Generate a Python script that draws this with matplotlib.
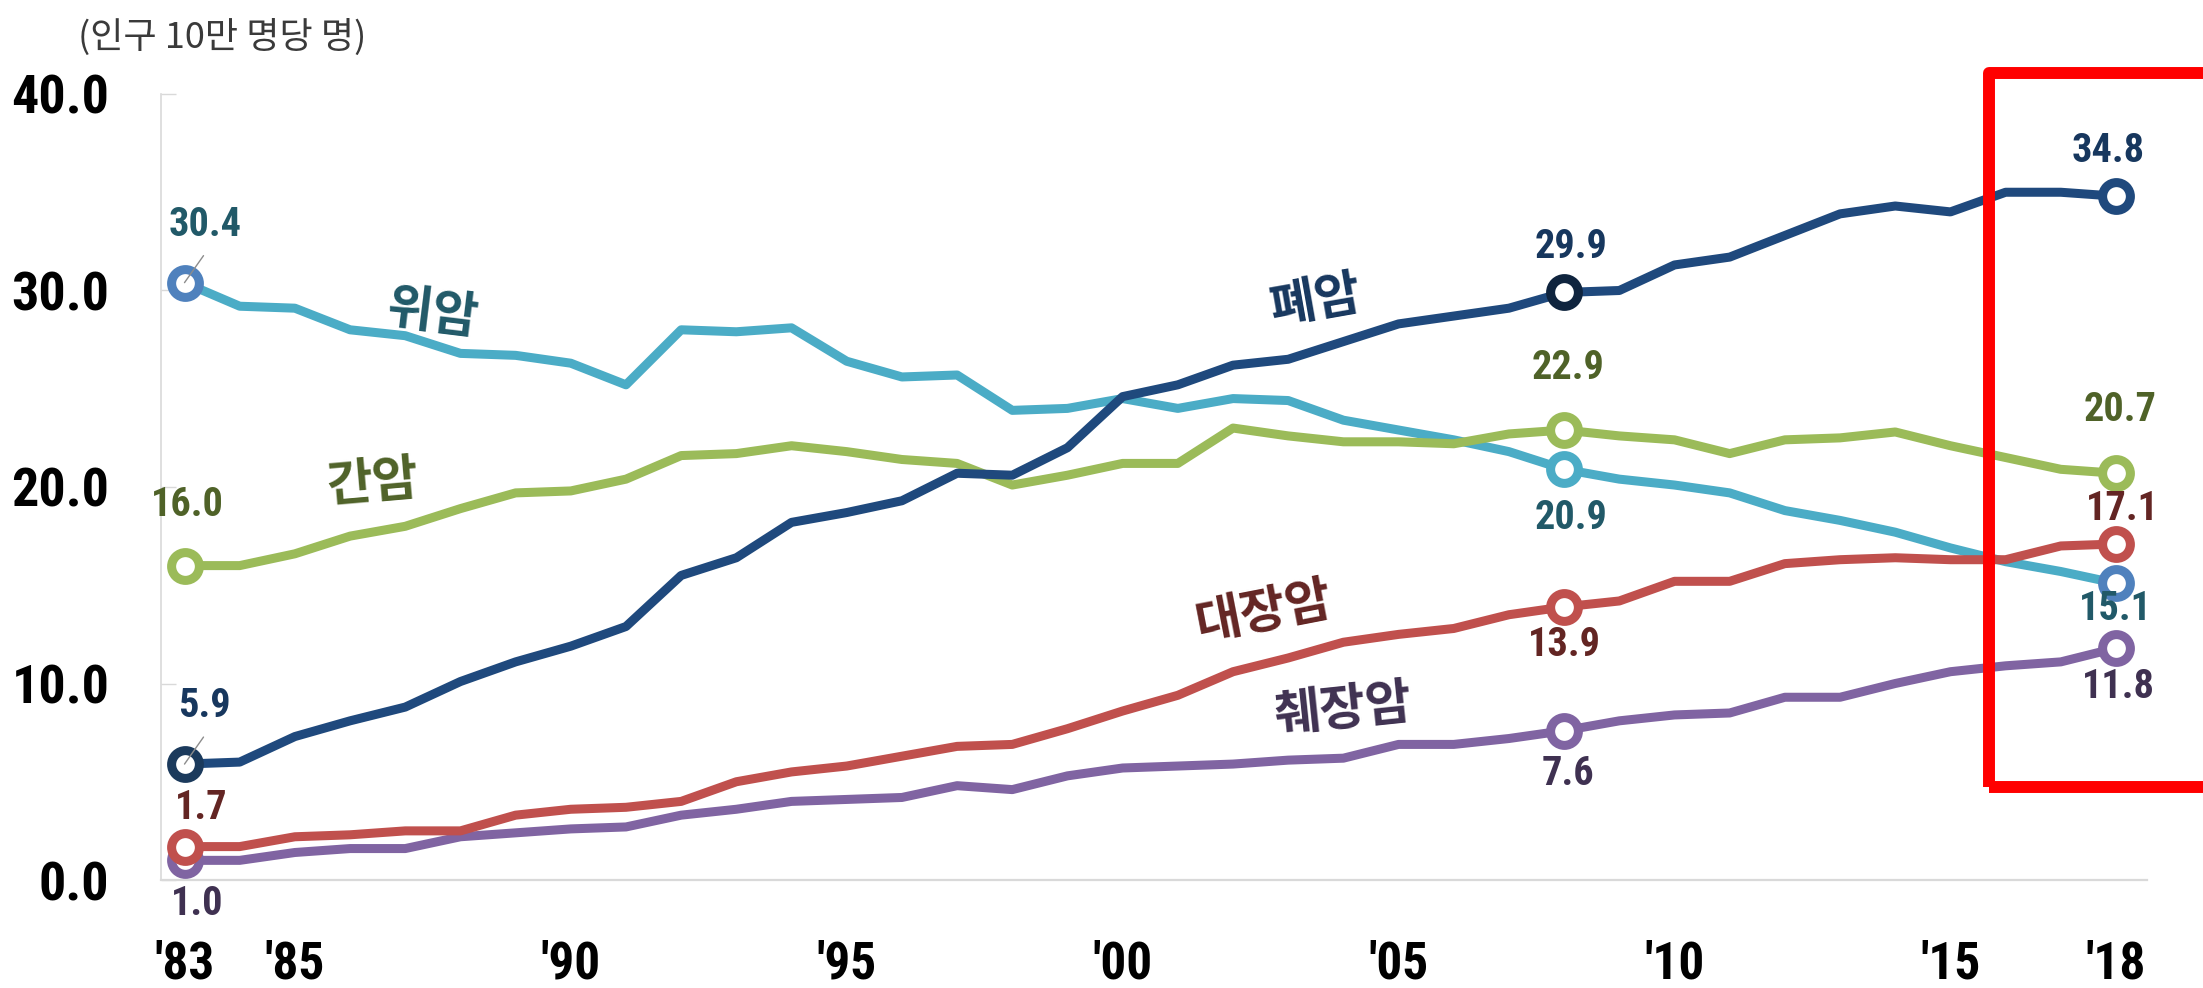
import matplotlib
matplotlib.use("Agg")
import matplotlib.pyplot as plt
from matplotlib import font_manager as fm
from matplotlib.patches import Rectangle

# ---------------- data ----------------
years = list(range(1983, 2019))
stomach = [30.4, 29.2, 29.1, 28.0, 27.7, 26.8, 26.7, 26.3, 25.2, 28.0,
           27.9, 28.1, 26.4, 25.6, 25.7, 23.9, 24.0, 24.5, 24.0, 24.5,
           24.4, 23.4, 22.9, 22.4, 21.8, 20.9, 20.4, 20.1, 19.7, 18.8,
           18.3, 17.7, 16.9, 16.2, 15.7, 15.1]
lung = [5.9, 6.0, 7.3, 8.1, 8.8, 10.1, 11.1, 11.9, 12.9, 15.5,
        16.4, 18.2, 18.7, 19.3, 20.7, 20.6, 22.0, 24.6, 25.2, 26.2,
        26.5, 27.4, 28.3, 28.7, 29.1, 29.9, 30.0, 31.3, 31.7, 32.8,
        33.9, 34.3, 34.0, 35.0, 35.0, 34.8]
liver = [16.0, 16.0, 16.6, 17.5, 18.0, 18.9, 19.7, 19.8, 20.4, 21.6,
         21.7, 22.1, 21.8, 21.4, 21.2, 20.1, 20.6, 21.2, 21.2, 23.0,
         22.6, 22.3, 22.3, 22.2, 22.7, 22.9, 22.6, 22.4, 21.7, 22.4,
         22.5, 22.8, 22.1, 21.5, 20.9, 20.7]
colorectal = [1.7, 1.7, 2.2, 2.3, 2.5, 2.5, 3.3, 3.6, 3.7, 4.0,
              5.0, 5.5, 5.8, 6.3, 6.8, 6.9, 7.7, 8.6, 9.4, 10.6,
              11.3, 12.1, 12.5, 12.8, 13.5, 13.9, 14.2, 15.2, 15.2, 16.1,
              16.3, 16.4, 16.3, 16.3, 17.0, 17.1]
pancreas = [1.0, 1.0, 1.4, 1.6, 1.6, 2.2, 2.4, 2.6, 2.7, 3.3,
            3.6, 4.0, 4.1, 4.2, 4.8, 4.6, 5.3, 5.7, 5.8, 5.9,
            6.1, 6.2, 6.9, 6.9, 7.2, 7.6, 8.1, 8.4, 8.5, 9.3,
            9.3, 10.0, 10.6, 10.9, 11.1, 11.8]
series_names = ["위암", "간암", "폐암", "대장암", "췌장암"]
xtick_years = [1983, 1985, 1990, 1995, 2000, 2005, 2010, 2015, 2018]
xtick_labels = ["'83", "'85", "'90", "'95", "'00", "'05", "'10", "'15", "'18"]
yticks = [0, 10, 20, 30, 40]
unit_label = "(인구 10만 명당 명)"
labeled_years = [1983, 2008, 2018]

# ---------------- fonts ----------------
NUM = {"family": "Liberation Sans"}
NUM_NARROW = False
cands = []
for f in fm.fontManager.ttflist:
    nm = f.name
    st = str(f.stretch)
    if ("Narrow" in nm or "Condensed" in nm or st in ("condensed", "semi-condensed")) \
            and "Mono" not in nm and "Serif" not in nm and "CJK" not in nm:
        cands.append((nm, st, f.fname))
pref = ["Liberation Sans Narrow", "Roboto Condensed", "Open Sans Condensed",
        "Noto Sans", "Noto Sans Condensed", "DejaVu Sans", "DejaVu Sans Condensed"]
for p in pref:
    hit = [c for c in cands if c[0] == p]
    if hit:
        if hit[0][1] in ("condensed", "semi-condensed") and "Condensed" not in p and "Narrow" not in p:
            NUM = {"family": p, "stretch": hit[0][1]}
        else:
            NUM = {"family": p}
        NUM_NARROW = True
        break
KR = ["Noto Sans CJK KR", "DejaVu Sans"]

W, H, DPI = 2203, 988, 100
fig = plt.figure(figsize=(W / DPI, H / DPI), dpi=DPI)
fig.patch.set_facecolor("white")

YTICK_FS = 39 if NUM_NARROW else 35
XTICK_FS = 37 if NUM_NARROW else 34
DATA_FS = 29 if NUM_NARROW else 26

ax_l, ax_r, ax_t, ax_b = 161, 2147, 94, 880
ax = fig.add_axes([ax_l / W, 1 - ax_b / H, (ax_r - ax_l) / W, (ax_b - ax_t) / H])
ax.set_xlim(1982.574, 2018.562)
ax.set_ylim(0, 40)

for s in ["top", "right"]:
    ax.spines[s].set_visible(False)
ax.spines["left"].set_color("#d9d9d9")
ax.spines["left"].set_linewidth(1.2)
ax.spines["bottom"].set_color("#d9d9d9")
ax.spines["bottom"].set_linewidth(1.6)

ax.set_yticks(yticks)
ax.set_yticklabels([f"{v:.1f}" for v in yticks])
ax.set_xticks(xtick_years)
ax.set_xticklabels(xtick_labels)
ax.tick_params(axis="y", direction="in", length=11, width=1.0, color="#d9d9d9",
               pad=37, labelsize=YTICK_FS, labelcolor="black")
ax.tick_params(axis="x", length=0, pad=43, labelsize=XTICK_FS, labelcolor="black")
for lab in ax.get_yticklabels() + ax.get_xticklabels():
    lab.set_fontfamily(NUM["family"])
    if "stretch" in NUM:
        lab.set_fontstretch(NUM["stretch"])
    lab.set_fontweight("bold")

LW = 6.5
c_st, c_lv, c_lg, c_cr, c_pc = "#4bacc6", "#9bbb59", "#1f497d", "#c0504d", "#8064a2"
ax.plot(years, stomach, color=c_st, lw=LW, zorder=2, solid_joinstyle="round")
ax.plot(years, liver, color=c_lv, lw=LW, zorder=3, solid_joinstyle="round")
ax.plot(years, colorectal, color=c_cr, lw=LW, zorder=4, solid_joinstyle="round")
ax.plot(years, pancreas, color=c_pc, lw=LW, zorder=3.5, solid_joinstyle="round")
ax.plot(years, lung, color=c_lg, lw=LW, zorder=5, solid_joinstyle="round")

marker_edges = {
    "st": ["#4f81bd", c_st, "#4f81bd"],
    "lg": ["#1b3a5c", "#0f243e", c_lg],
    "lv": [c_lv, c_lv, c_lv],
    "cr": [c_cr, c_cr, c_cr],
    "pc": [c_pc, c_pc, c_pc],
}
series = {"st": stomach, "lg": lung, "lv": liver, "cr": colorectal, "pc": pancreas}
zord = {"st": 6, "lv": 6.5, "cr": 7, "pc": 6.8, "lg": 7.5}
for key, vals in series.items():
    for k, yr in enumerate(labeled_years):
        i = years.index(yr)
        ax.plot([years[i]], [vals[i]], "o", ms=20, mew=6.5, mfc="white",
                mec=marker_edges[key][k], zorder=zord[key])

label_specs = [
    ("st", 1983, 21, 58, "#215968"), ("st", 2008, 7, -49, "#215968"), ("st", 2018, -1, -26, "#215968"),
    ("lg", 1983, 20, 58, "#17375e"), ("lg", 2008, 7, 45, "#17375e"), ("lg", 2018, -8, 45, "#17375e"),
    ("lv", 1983, 3, 61, "#4f6228"), ("lv", 2008, 4, 62, "#4f6228"), ("lv", 2018, 4, 63, "#4f6228"),
    ("cr", 1983, 17, 39, "#632523"), ("cr", 2008, 0, -38, "#632523"), ("cr", 2018, 6, 35, "#632523"),
    ("pc", 1983, 13, -44, "#3f3151"), ("pc", 2008, 4, -43, "#3f3151"), ("pc", 2018, 2, -39, "#3f3151"),
]
for key, yr, dx, dy, col in label_specs:
    i = years.index(yr)
    v = series[key][i]
    t = ax.annotate(f"{v:.1f}", xy=(years[i], v), xytext=(dx, dy),
                    textcoords="offset pixels", ha="center", va="center",
                    fontsize=DATA_FS, fontweight="bold", family=NUM["family"],
                    color=col, zorder=10)
    if "stretch" in NUM:
        t.set_fontstretch(NUM["stretch"])

for key in ["st", "lg"]:
    v = series[key][0]
    ax.annotate("", xy=(years[0], v), xytext=(19, 27), textcoords="offset pixels",
                arrowprops=dict(arrowstyle="-", color="#8c8c8c", lw=1.0,
                                shrinkA=0, shrinkB=0), zorder=12)

name_specs = [
    (series_names[0], 1987.5, 28.8, -7, "#215968"),
    (series_names[1], 1986.4, 20.2, 5, "#4f6228"),
    (series_names[2], 2003.5, 29.4, 10, "#17375e"),
    (series_names[3], 2002.55, 13.6, 11, "#632523"),
    (series_names[4], 2004.0, 8.65, 6, "#3f3151"),
]
for txt, x, y, rot, col in name_specs:
    ax.text(x, y, txt, family=KR, fontsize=36, fontweight="bold", color=col,
            rotation=rot, ha="center", va="center", rotation_mode="anchor", zorder=9)

fig.text(222 / W, 1 - 37 / H, unit_label, family=KR, fontsize=26, color="#3a3a3a",
         ha="center", va="center")

rect = Rectangle((1989 / W, 1 - 787 / H), 0.3, (787 - 73) / H, transform=fig.transFigure,
                 fill=False, edgecolor="#ff0000", lw=8.6, joinstyle="round",
                 clip_on=False, zorder=20)
fig.patches.append(rect)

fig.savefig("out.png", dpi=DPI, facecolor="white")
